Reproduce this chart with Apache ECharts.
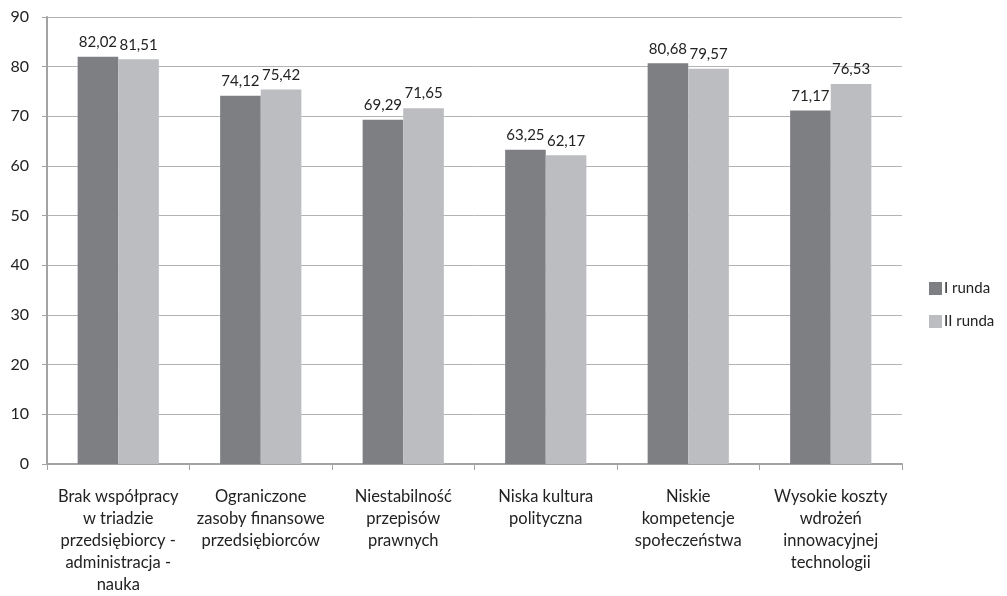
<!DOCTYPE html>
<html><head><meta charset="utf-8">
<script src="https://cdn.jsdelivr.net/npm/echarts@6/dist/echarts.min.js"></script>
<style>html,body{margin:0;padding:0;background:#fff}#c{width:1007px;height:596px}</style>
</head><body><div id="c"></div>
<script>
const categories = [
  "Brak współpracy\nw triadzie\nprzedsiębiorcy -\nadministracja -\nnauka",
  "Ograniczone\nzasoby finansowe\nprzedsiębiorców",
  "Niestabilność\nprzepisów\nprawnych",
  "Niska kultura\npolityczna",
  "Niskie\nkompetencje\nspołeczeństwa",
  "Wysokie koszty\nwdrożeń\ninnowacyjnej\ntechnologii"
];
const seriesNames = ["I runda", "II runda"];
const round1 = [82.02, 74.12, 69.29, 63.25, 80.68, 71.17];
const round2 = [81.51, 75.42, 71.65, 62.17, 79.57, 76.53];
const colors = ["#7e7f83", "#bcbdc1"];
const font = "Lato, 'Open Sans', sans-serif";

const chart = echarts.init(document.getElementById('c'), null, {renderer: 'canvas'});
const labelCfg = {
  show: true, position: 'top', distance: 7, color: '#222', fontSize: 15, fontFamily: font,
  formatter: p => p.value.toFixed(2).replace('.', ',')
};
chart.setOption({
  animation: false,
  color: colors,
  textStyle: {fontFamily: font},
  grid: {left: 47, right: 105, top: 17, bottom: 123, containLabel: false},
  legend: {
    orient: 'vertical', left: 929, top: 281, itemWidth: 13, itemHeight: 13, itemGap: 18,
    padding: 0,
    icon: 'rect', textStyle: {color: '#222', fontSize: 15, fontFamily: font, padding: [0, 0, 0, -3]}, itemStyle: {borderWidth: 0},
    data: seriesNames
  },
  xAxis: {
    type: 'category', data: categories,
    axisLine: {lineStyle: {color: '#a3a3a6', width: 2}},
    axisTick: {show: true, alignWithLabel: false, length: 6, lineStyle: {color: '#a3a3a6', width: 1}},
    axisLabel: {interval: 0, color: '#222', fontSize: 16.5, lineHeight: 22, margin: 22, fontFamily: font}
  },
  yAxis: {
    type: 'value', min: 0, max: 90, interval: 10,
    axisLine: {show: true, lineStyle: {color: '#a3a3a6', width: 2}},
    axisTick: {show: true, length: 5, lineStyle: {color: '#a3a3a6'}},
    axisLabel: {color: '#222', fontSize: 16, margin: 18, fontFamily: font},
    splitLine: {lineStyle: {color: '#b3b3b6', width: 1}}
  },
  series: [
    {name: seriesNames[0], type: 'bar', data: round1, barGap: '0%', barCategoryGap: '43%', label: labelCfg},
    {name: seriesNames[1], type: 'bar', data: round2, barGap: '0%', barCategoryGap: '43%', label: labelCfg}
  ]
});
</script></body></html>
